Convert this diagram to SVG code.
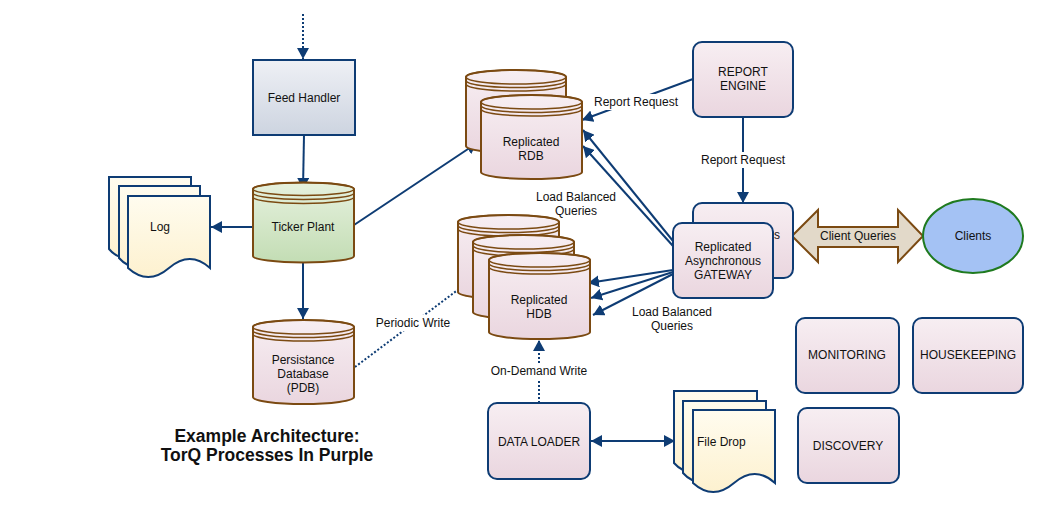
<svg xmlns="http://www.w3.org/2000/svg" width="1043" height="511" viewBox="0 0 1043 511">
<defs>
<linearGradient id="gFeed" x1="0" y1="0" x2="0" y2="1"><stop offset="0" stop-color="#eef0f5"/><stop offset="1" stop-color="#cdd4e0"/></linearGradient>
<linearGradient id="gGreen" x1="0" y1="0" x2="0" y2="1"><stop offset="0" stop-color="#e6f1de"/><stop offset="1" stop-color="#c3ddb4"/></linearGradient>
<linearGradient id="gPink" x1="0" y1="0" x2="0" y2="1"><stop offset="0" stop-color="#f7eef2"/><stop offset="1" stop-color="#ead6df"/></linearGradient>
<linearGradient id="gDoc" x1="0" y1="0" x2="0" y2="1"><stop offset="0" stop-color="#fffcef"/><stop offset="1" stop-color="#fdf1cf"/></linearGradient>
<marker id="arr" markerUnits="userSpaceOnUse" markerWidth="12" markerHeight="12" refX="11" refY="6" orient="auto"><path d="M0,0 L11,6 L0,12 Z" fill="#0e3c74"/></marker>
<marker id="arrS" markerUnits="userSpaceOnUse" markerWidth="12" markerHeight="12" refX="0" refY="6" orient="auto"><path d="M11,0 L0,6 L11,12 Z" fill="#0e3c74"/></marker>
</defs>
<style>
text{font-family:"Liberation Sans",Arial,sans-serif;font-size:12px;fill:#111;}
.c{text-anchor:middle;}
.ln{fill:none;stroke:#0e3c74;stroke-width:2;}
.dot{fill:none;stroke:#0e3c74;stroke-width:2;stroke-dasharray:2,2;}
.box{stroke:#0e3c74;stroke-width:2;fill:url(#gPink);}
.cyl{stroke:#7b4a12;stroke-width:2;fill:url(#gPink);}
.cylg{stroke:#7b4a12;stroke-width:2;fill:url(#gGreen);}
.cl{fill:none;stroke:#7b4a12;stroke-width:1.5;}
.doc{stroke:#0e3c74;stroke-width:2;fill:url(#gDoc);}
.bg{fill:#fff;}
.title{font-size:17.5px;font-weight:bold;}
</style>
<rect width="1043" height="511" fill="#fff"/>

<g id="connectors">
<line class="dot" x1="303" y1="14" x2="303" y2="59" marker-end="url(#arr)"/>
<line class="ln" x1="304" y1="135" x2="303" y2="189" marker-end="url(#arr)"/>
<line class="ln" x1="253" y1="227" x2="211" y2="227" marker-end="url(#arr)"/>
<line class="ln" x1="303" y1="263" x2="303" y2="319" marker-end="url(#arr)"/>
<line class="ln" x1="354" y1="225" x2="477" y2="143" marker-end="url(#arr)"/>
<line class="dot" x1="355" y1="367" x2="471" y2="280" marker-end="url(#arr)"/>
<rect class="bg" x="374" y="315" width="78" height="16"/>
<text class="c" x="413" y="327">Periodic Write</text>
<line class="ln" x1="693" y1="79" x2="582" y2="120" marker-end="url(#arr)"/>
<rect class="bg" x="592" y="94" width="88" height="16"/>
<text class="c" x="636" y="106">Report Request</text>
<line class="ln" x1="743" y1="117" x2="743" y2="203" marker-end="url(#arr)"/>
<rect class="bg" x="699" y="152" width="88" height="16"/>
<text class="c" x="743" y="164">Report Request</text>
<line class="ln" x1="673" y1="241" x2="583" y2="130" marker-end="url(#arr)"/>
<line class="ln" x1="673" y1="246" x2="583" y2="146" marker-end="url(#arr)"/>
<text class="c" x="576" y="201">Load Balanced</text>
<text class="c" x="576" y="215">Queries</text>
<line class="ln" x1="673" y1="270" x2="588" y2="283" marker-end="url(#arr)"/>
<line class="ln" x1="673" y1="272" x2="591" y2="298" marker-end="url(#arr)"/>
<line class="ln" x1="673" y1="274" x2="593" y2="315" marker-end="url(#arr)"/>
<text class="c" x="672" y="316">Load Balanced</text>
<text class="c" x="672" y="330">Queries</text>
<line class="dot" x1="539" y1="403" x2="539" y2="340" marker-end="url(#arr)"/>
<rect class="bg" x="489" y="363" width="100" height="16"/>
<text class="c" x="539" y="375">On-Demand Write</text>
<line class="ln" x1="591" y1="441" x2="675" y2="441" marker-start="url(#arrS)" marker-end="url(#arr)"/>
<path d="M792,236 L818,210 V227 H898 V210 L923,236 L898,262 V247 H818 V262 Z" fill="#e2d9c9" stroke="#7b4a12" stroke-width="2"/>
<text class="c" x="858" y="240">Client Queries</text>
</g>

<g id="feed-handler">
<rect x="253" y="60" width="102" height="75" fill="url(#gFeed)" stroke="#0e3c74" stroke-width="2"/>
<text class="c" x="304" y="102">Feed Handler</text>
</g>

<g id="ticker-plant">
<path class="cylg" d="M253,189 A50.5,6.5 0 0 1 354,189 V256 A50.5,6.5 0 0 1 253,256 Z"/>
<ellipse class="cl" cx="303.5" cy="189" rx="50.5" ry="6.5"/>
<path class="cl" d="M253,193 A50.5,6.5 0 0 0 354,193 M253,197 A50.5,6.5 0 0 0 354,197"/>
<text class="c" x="303" y="231">Ticker Plant</text>
</g>

<g id="log">
<path class="doc" d="M109,177 H191 V249 Q176,231 150,249 T109,249 Z"/>
<path class="doc" d="M119,186 H200 V258 Q185,240 160,258 T119,258 Z"/>
<path class="doc" d="M128,196 H210 V268 Q190,250 169,268 T128,268 Z"/>
<text x="150" y="231">Log</text>
</g>

<g id="pdb">
<path class="cyl" d="M253,327 A50.5,7 0 0 1 354,327 V397 A50.5,7 0 0 1 253,397 Z"/>
<ellipse class="cl" cx="303.5" cy="327" rx="50.5" ry="7"/>
<path class="cl" d="M253,330.5 A50.5,7 0 0 0 354,330.5 M253,334 A50.5,7 0 0 0 354,334"/>
<text class="c" x="303" y="364">Persistance</text>
<text class="c" x="303" y="378">Database</text>
<text class="c" x="303" y="392">(PDB)</text>
</g>

<g id="rdb">
<path class="cyl" d="M466,77 A50,7 0 0 1 566,77 V146 A50,7 0 0 1 466,146 Z"/>
<ellipse class="cl" cx="516" cy="77" rx="50" ry="7"/>
<path class="cl" d="M466,80.5 A50,7 0 0 0 566,80.5 M466,84 A50,7 0 0 0 566,84"/>
<path class="cyl" d="M481,102 A50.5,7 0 0 1 582,102 V172 A50.5,7 0 0 1 481,172 Z"/>
<ellipse class="cl" cx="531.5" cy="102" rx="50.5" ry="7"/>
<path class="cl" d="M481,105.5 A50.5,7 0 0 0 582,105.5 M481,109 A50.5,7 0 0 0 582,109"/>
<text class="c" x="531" y="146">Replicated</text>
<text class="c" x="531" y="160">RDB</text>
</g>

<g id="hdb">
<path class="cyl" d="M458,222 A50.5,7 0 0 1 559,222 V292 A50.5,7 0 0 1 458,292 Z"/>
<ellipse class="cl" cx="508.5" cy="222" rx="50.5" ry="7"/>
<path class="cl" d="M458,225.5 A50.5,7 0 0 0 559,225.5 M458,229 A50.5,7 0 0 0 559,229"/>
<path class="cyl" d="M473,242 A50.5,7 0 0 1 574,242 V312 A50.5,7 0 0 1 473,312 Z"/>
<ellipse class="cl" cx="523.5" cy="242" rx="50.5" ry="7"/>
<path class="cl" d="M473,245.5 A50.5,7 0 0 0 574,245.5 M473,249 A50.5,7 0 0 0 574,249"/>
<path class="cyl" d="M489,260 A50.5,7 0 0 1 590,260 V332 A50.5,7 0 0 1 489,332 Z"/>
<ellipse class="cl" cx="539.5" cy="260" rx="50.5" ry="7"/>
<path class="cl" d="M489,263.5 A50.5,7 0 0 0 590,263.5 M489,267 A50.5,7 0 0 0 590,267"/>
<text class="c" x="539" y="304">Replicated</text>
<text class="c" x="539" y="318">HDB</text>
</g>

<g id="report-engine">
<rect class="box" x="693" y="42" width="100" height="75" rx="9"/>
<text class="c" x="743" y="76">REPORT</text>
<text class="c" x="743" y="90">ENGINE</text>
</g>

<g id="gateway">
<rect class="box" x="693" y="203" width="100" height="75" rx="9"/>
<text x="774" y="239">s</text>
<rect class="box" x="673" y="223" width="100" height="75" rx="9"/>
<text class="c" x="723" y="251">Replicated</text>
<text class="c" x="723" y="265">Asynchronous</text>
<text class="c" x="723" y="279">GATEWAY</text>
</g>

<g id="clients">
<ellipse cx="973" cy="236" rx="50" ry="37" fill="#a4c2f4" stroke="#1f7a1f" stroke-width="2"/>
<text class="c" x="973" y="240">Clients</text>
</g>

<g id="data-loader">
<rect class="box" x="488" y="403" width="102" height="76" rx="9"/>
<text class="c" x="539" y="446">DATA LOADER</text>
</g>

<g id="file-drop">
<path class="doc" d="M674,391 H757 V463 Q742,445 716,463 T674,463 Z"/>
<path class="doc" d="M683,401 H766 V473 Q751,455 725,473 T683,473 Z"/>
<path class="doc" d="M693,410 H775 V483 Q755,465 734,483 T693,483 Z"/>
<text x="697" y="446">File Drop</text>
</g>

<g id="monitoring">
<rect class="box" x="796" y="318" width="103" height="75" rx="9"/>
<text class="c" x="847" y="359">MONITORING</text>
</g>

<g id="housekeeping">
<rect class="box" x="913" y="318" width="110" height="75" rx="9"/>
<text class="c" x="968" y="359">HOUSEKEEPING</text>
</g>

<g id="discovery">
<rect class="box" x="798" y="408" width="101" height="75" rx="9"/>
<text class="c" x="848" y="450">DISCOVERY</text>
</g>

<g id="title">
<text class="c title" x="267" y="442">Example Architecture:</text>
<text class="c title" x="267" y="461">TorQ Processes In Purple</text>
</g>
</svg>
